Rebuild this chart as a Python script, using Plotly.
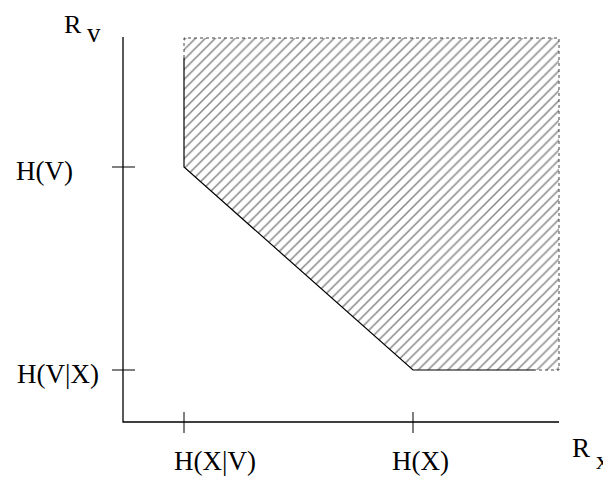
import plotly.graph_objects as go

# Data (abstract rate units)
x_ticks = [0.61, 2.90]            # H(X|V), H(X)
x_tick_labels = ["H(X|V)", "H(X)"]
y_ticks = [2.55, 0.52]            # H(V), H(V|X)
y_tick_labels = ["H(V)", "H(V|X)"]
x_max = 4.36
y_max = 3.84
corner_end = 4.12                 # where solid bottom boundary ends

FONT = "Liberation Serif, Times New Roman, serif"
fig = go.Figure()

# hatched achievable region
reg_x = [x_ticks[0], x_ticks[0], x_ticks[1], x_max, x_max, x_ticks[0]]
reg_y = [y_max, y_ticks[0], y_ticks[1], y_ticks[1], y_max, y_max]
fig.add_trace(go.Scatter(x=reg_x, y=reg_y, mode="lines", fill="toself",
                         fillcolor="rgba(0,0,0,0)",
                         fillpattern=dict(shape="/", size=7, solidity=0.22,
                                          fgcolor="#111111", bgcolor="white"),
                         line=dict(width=0), hoverinfo="skip", showlegend=False))

# dotted open edges
fig.add_trace(go.Scatter(x=[x_ticks[0], x_ticks[0], x_max, x_max, corner_end],
                         y=[y_ticks[0] + 1.09, y_max, y_max, y_ticks[1], y_ticks[1]],
                         mode="lines", line=dict(color="#444", width=1, dash="dot"),
                         hoverinfo="skip", showlegend=False))

# solid boundary
fig.add_trace(go.Scatter(x=[x_ticks[0], x_ticks[0], x_ticks[1], corner_end],
                         y=[y_ticks[0] + 1.09, y_ticks[0], y_ticks[1], y_ticks[1]],
                         mode="lines", line=dict(color="black", width=1.2),
                         hoverinfo="skip", showlegend=False))

# axes
fig.add_trace(go.Scatter(x=[0, 0, x_max], y=[y_max + 0.01, 0, 0], mode="lines",
                         line=dict(color="black", width=1.3),
                         hoverinfo="skip", showlegend=False))
# ticks
for xv in x_ticks:
    fig.add_trace(go.Scatter(x=[xv, xv], y=[0.10, -0.11], mode="lines",
                             line=dict(color="black", width=1),
                             hoverinfo="skip", showlegend=False))
for yv in y_ticks:
    fig.add_trace(go.Scatter(x=[-0.11, 0.12], y=[yv, yv], mode="lines",
                             line=dict(color="black", width=1),
                             hoverinfo="skip", showlegend=False))

ann = []
for xv, lab, cx in zip(x_ticks, x_tick_labels, [0.92, 2.97]):
    ann.append(dict(x=cx, y=-0.39, text=lab, showarrow=False,
                    xanchor="center", yanchor="middle"))
for yv, lab, cx in zip(y_ticks, y_tick_labels, [-0.79, -0.65]):
    ann.append(dict(x=cx, y=yv - 0.04, text=lab, showarrow=False,
                    xanchor="center", yanchor="middle"))
ann.append(dict(x=-0.50, y=1, yref="paper", text="R", showarrow=False,
                xanchor="center", yanchor="top", font=dict(size=26)))
ann.append(dict(x=-0.29, y=3.89, text="v", showarrow=False, xanchor="center", yanchor="middle"))
ann.append(dict(x=4.58, y=-0.26, text="R", showarrow=False, xanchor="center", yanchor="middle"))
ann.append(dict(x=1, xref="paper", y=-0.38, text="x", showarrow=False,
                xanchor="right", yanchor="middle", font=dict(size=26)))

# page has an 8px body margin: plot occupies page pixels 8..611 x 8..476
fig.update_layout(
    width=603, height=468, margin=dict(l=0, r=0, t=0, b=0),
    paper_bgcolor="white", plot_bgcolor="white",
    font=dict(family=FONT, size=27, color="black"),
    xaxis=dict(range=[-1.15, 4.88], visible=False, fixedrange=True),
    yaxis=dict(range=[-0.54, 4.14], visible=False, fixedrange=True),
    annotations=ann, showlegend=False,
)
fig.write_html("out.html")
